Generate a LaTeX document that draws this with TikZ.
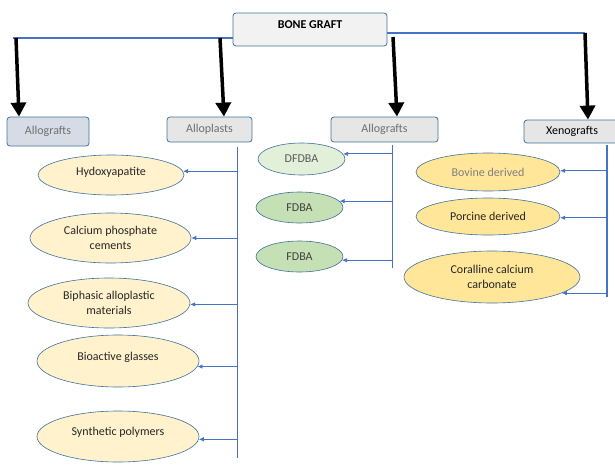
\documentclass[tikz,border=0pt]{standalone}
\usepackage{fontspec}
\setmainfont{Carlito}
\usetikzlibrary{arrows.meta,shapes.geometric}
\definecolor{linkblue}{HTML}{4472C4}
\definecolor{rimblue}{HTML}{41719C}
\definecolor{boxgray}{HTML}{E7E6E6}
\definecolor{boxblue}{HTML}{D6DCE5}
\definecolor{rootgray}{HTML}{F2F2F2}
\definecolor{paleyellow}{HTML}{FFF2CC}
\definecolor{goldyellow}{HTML}{FFE699}
\definecolor{palegreen}{HTML}{E2F0D9}
\definecolor{midgreen}{HTML}{C5E0B4}
\definecolor{labelgray}{HTML}{6F6F6F}

\begin{document}
\begin{tikzpicture}[x=1pt, y={(0pt,-1pt)}, every node/.style={font=\fontsize{12}{15}\selectfont},
  catbox/.style={draw=rimblue, line width=0.8pt, rounded corners=3pt, fill=boxgray, text=labelgray, inner sep=0pt},
  item/.style={ellipse, draw=rimblue, line width=0.6pt, inner sep=0pt, align=center, text=black!85},
  trunk/.style={draw=linkblue, line width=1.8pt},
  branch/.style={draw=linkblue, line width=0.8pt, -{Latex[length=5pt,width=4.5pt]}},
  drop/.style={line width=3.5pt, -{Triangle[length=14pt,width=15pt]}}]
\useasboundingbox (0,0) rectangle (615,466);

% top level
\node[catbox, fill=rootgray, text=black, font=\fontsize{12}{15}\selectfont\bfseries, minimum width=154pt, minimum height=33pt, text height=8pt, text depth=10pt] (root) at (310,29.5) {BONE GRAFT};
\coordinate (lend) at (13,38);
\coordinate (rend) at (585,33);
\draw[trunk, line width=1.5pt] (lend) -- (lend -| root.west);
\draw[trunk, line width=1.5pt] (root.east |- rend) -- (rend);

% graft types
\node[catbox, fill=boxblue, minimum width=82pt, minimum height=29pt] (allo1) at (48,131.5) {Allografts};
\node[catbox, minimum width=85pt, minimum height=25pt] (plast) at (209.5,129.5) {Alloplasts};
\node[catbox, minimum width=107pt, minimum height=25pt] (allo2) at (384.5,129.5) {Allografts};
\node[catbox, text=black, minimum width=96pt, minimum height=23pt] (xeno) at (572,131.5) {Xenografts};

\coordinate (d1) at (16,38);
\coordinate (d2) at (220,38);
\coordinate (d3) at (393,37);
\coordinate (d4) at (585,33);
\draw[drop] (d1) -- (allo1.north -| 19,0);
\draw[drop] (d2) -- (plast.north -| 224,0);
\draw[drop] (d3) -- (allo2.north -| 397,0);
\draw[drop] (d4) -- (xeno.north -| 588,0);

% alloplasts
\node[item, fill=paleyellow, minimum width=146pt, minimum height=40pt, text height=8pt, text depth=7pt] (hyd) at (111,175) {Hydoxyapatite};
\node[item, fill=paleyellow, minimum width=161pt, minimum height=50pt] (cal) at (110.5,238) {Calcium phosphate\\cements};
\node[item, fill=paleyellow, minimum width=162pt, minimum height=50pt] (bip) at (109,303) {Biphasic alloplastic\\materials};
\node[item, fill=paleyellow, minimum width=162pt, minimum height=52pt, text height=8pt, text depth=10pt] (bio) at (118,361) {Bioactive glasses};
\node[item, fill=paleyellow, minimum width=162pt, minimum height=51pt, text height=8pt, text depth=10pt] (syn) at (118,436.5) {Synthetic polymers};

\coordinate (t1a) at (237.5,147);
\coordinate (t1b) at (237.5,458);
\draw[trunk] (t1a) -- (t1b);
\draw[branch] (hyd.3 -| t1a) -- (hyd.3);
\draw[branch] (cal.east -| t1a) -- (cal.east);
\draw[branch] (bip.-1 -| t1a) -- (bip.-1);
\draw[branch] (bio.-4 -| t1a) -- (bio.-4);
\draw[branch] (syn.-2 -| t1a) -- (syn.-2);

% allografts
\node[item, fill=palegreen, text=black!65, minimum width=87pt, minimum height=32pt] (dfdba) at (301.5,159) {DFDBA};
\node[item, fill=midgreen, text=black!75, minimum width=87pt, minimum height=31pt] (fdba1) at (299.5,207.5) {FDBA};
\node[item, fill=midgreen, text=black!75, minimum width=87pt, minimum height=31pt] (fdba2) at (299.5,256.5) {FDBA};

\coordinate (t2a) at (392.5,145);
\coordinate (t2b) at (392.5,268);
\draw[trunk] (t2a) -- (t2b);
\draw[branch] (dfdba.7 -| t2a) -- (dfdba.7);
\draw[branch] (fdba1.9 -| t2a) -- (fdba1.9);
\draw[branch] (fdba2.-5 -| t2a) -- (fdba2.-5);

% xenografts
\node[item, fill=goldyellow, text=black!50, minimum width=144pt, minimum height=38pt] (bov) at (488,172) {Bovine derived};
\node[item, fill=goldyellow, minimum width=144pt, minimum height=37pt] (por) at (488,216.5) {Porcine derived};
\node[item, fill=goldyellow, minimum width=176pt, minimum height=52pt] (cor) at (492,277) {Coralline calcium\\carbonate};

\coordinate (t3a) at (607,145);
\coordinate (t3b) at (607,297);
\draw[trunk] (t3a) -- (t3b);
\draw[branch] (bov.1 -| t3a) -- (bov.1);
\draw[branch] (por.-1 -| t3a) -- (por.-1);
\draw[branch] (cor.-13 -| t3a) -- (cor.-13);
\end{tikzpicture}
\end{document}
